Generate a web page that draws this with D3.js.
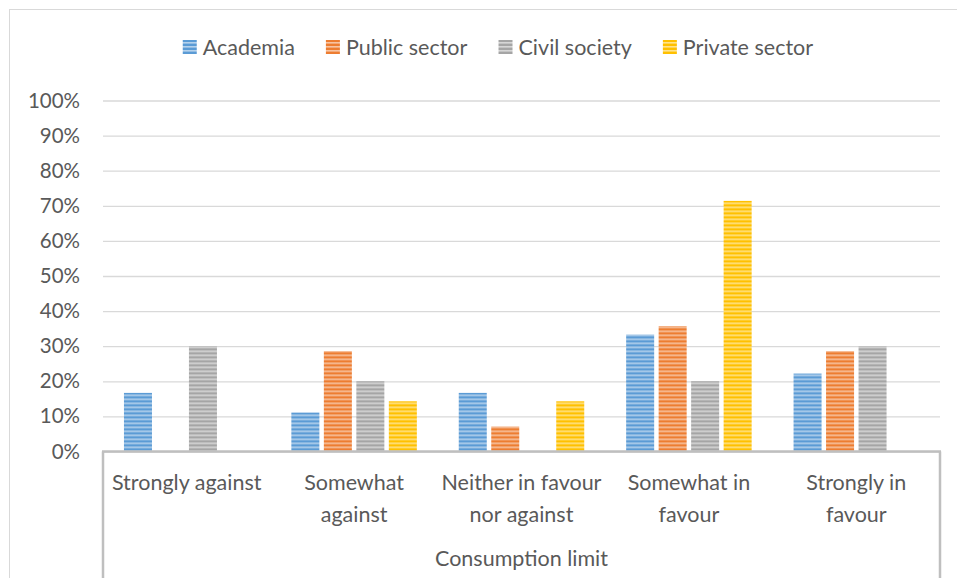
<!DOCTYPE html>
<html>
<head>
<meta charset="utf-8">
<script src="https://cdn.jsdelivr.net/npm/d3@7"></script>
<style>
  body { margin: 0; background: #fff; }
  text { font-family: Lato, "Open Sans", sans-serif; fill: #595959; }
</style>
</head>
<body>
<svg id="chart" width="957" height="578"></svg>
<script>
// data
let categories = ['Strongly against', 'Somewhat against', 'Neither in favour nor against', 'Somewhat in favour', 'Strongly in favour'];
let categoryLines = [['Strongly against'], ['Somewhat', 'against'], ['Neither in favour', 'nor against'], ['Somewhat in', 'favour'], ['Strongly in', 'favour']];
let seriesNames = ['Academia', 'Public sector', 'Civil society', 'Private sector'];
let seriesColors = ['#5B9BD5', '#ED7D31', '#A5A5A5', '#FFC000'];
let academia = [16.7, 11.1, 16.7, 33.3, 22.2];
let publicSector = [0, 28.6, 7.1, 35.7, 28.6];
let civilSociety = [30, 20, 0, 20, 30];
let privateSector = [0, 14.3, 14.3, 71.4, 0];
let yTicks = [0, 10, 20, 30, 40, 50, 60, 70, 80, 90, 100];
let groupLabel = 'Consumption limit';

let seriesValues = [academia, publicSector, civilSociety, privateSector];

let svg = d3.select('#chart');
let W = 957, H = 578;
let margin = {top: 100.5, right: 17, bottom: 126.5, left: 103};
let plotW = W - margin.left - margin.right,
    plotH = H - margin.top - margin.bottom;

// outer chart border (runs off the right and bottom edge)
svg.append('rect')
    .attr('x', 9.5).attr('y', 9.5)
    .attr('width', 1000).attr('height', 1000)
    .attr('fill', '#fff')
    .attr('stroke', '#d9d9d9');

// striped fill patterns
let defs = svg.append('defs');
seriesColors.forEach(function(c, i) {
    let p = defs.append('pattern')
        .attr('id', 'stripe' + i)
        .attr('patternUnits', 'userSpaceOnUse')
        .attr('width', 8).attr('height', 4);
    p.append('rect').attr('width', 8).attr('height', 4).attr('fill', c);
    p.append('rect').attr('y', 2).attr('width', 8).attr('height', 1.6)
        .attr('fill', '#fff').attr('opacity', 0.55);
});

let g = svg.append('g')
    .attr('transform', 'translate(' + margin.left + ',' + margin.top + ')');

let x0 = d3.scaleBand().domain(categories).range([0, plotW]).paddingInner(0).paddingOuter(0);
let x1 = d3.scaleBand().domain(seriesNames).range([0, x0.bandwidth()])
    .paddingInner(0.138).paddingOuter(0.645);
let y = d3.scaleLinear().domain([0, 100]).range([plotH, 0]);

// gridlines + y labels
let yAxis = d3.axisLeft(y)
    .tickValues(yTicks)
    .tickSize(-plotW)
    .tickFormat(function(d) { return d + '%'; });

g.append('g')
    .call(yAxis)
    .call(function(a) {
        a.select('.domain').remove();
        a.selectAll('.tick line').attr('stroke', '#d9d9d9').attr('stroke-width', 1.3);
        a.selectAll('.tick text')
            .attr('x', -23)
            .style('font-size', '20.5px')
            .style('fill', '#595959');
    });

// bars
let rows = categories.map(function(c, ci) {
    return seriesNames.map(function(s, si) {
        return {cat: c, series: s, si: si, value: seriesValues[si][ci]};
    });
});

g.selectAll('.group')
    .data(rows)
    .enter().append('g')
    .attr('class', 'group')
    .attr('transform', function(d, i) { return 'translate(' + x0(categories[i]) + ',0)'; })
    .selectAll('rect')
    .data(function(d) { return d.filter(function(e) { return e.value > 0; }); })
    .enter().append('rect')
    .attr('x', function(d) { return x1(d.series); })
    .attr('y', function(d) { return y(d.value); })
    .attr('width', x1.bandwidth())
    .attr('height', function(d) { return plotH - y(d.value); })
    .attr('fill', function(d) { return 'url(#stripe' + d.si + ')'; });

// category axis box
let axisColor = '#bfbfbf';
g.append('line')
    .attr('x1', -1).attr('x2', plotW + 1)
    .attr('y1', plotH).attr('y2', plotH)
    .attr('stroke', axisColor).attr('stroke-width', 2.5);
[0, plotW].forEach(function(xx) {
    g.append('line')
        .attr('x1', xx).attr('x2', xx)
        .attr('y1', plotH).attr('y2', H)
        .attr('stroke', axisColor).attr('stroke-width', 2.5);
});

// category labels
categoryLines.forEach(function(lines, i) {
    let t = g.append('text')
        .attr('text-anchor', 'middle')
        .style('font-size', '21.5px')
        .attr('x', x0(categories[i]) + x0.bandwidth() / 2)
        .attr('y', plotH + 38);
    lines.forEach(function(l, li) {
        t.append('tspan')
            .attr('x', x0(categories[i]) + x0.bandwidth() / 2)
            .attr('dy', li === 0 ? 0 : 32)
            .text(l);
    });
});

g.append('text')
    .attr('text-anchor', 'middle')
    .style('font-size', '21.5px')
    .attr('x', plotW / 2)
    .attr('y', plotH + 114)
    .text(groupLabel);

// legend
let legend = svg.append('g').attr('class', 'legend');
let items = legend.selectAll('g')
    .data(seriesNames)
    .enter().append('g');
items.append('rect')
    .attr('width', 14).attr('height', 14)
    .attr('y', 40)
    .attr('fill', function(d, i) { return 'url(#stripe' + i + ')'; });
items.append('text')
    .attr('x', 20).attr('y', 47).attr('dy', '0.35em')
    .style('font-size', '21.5px')
    .text(function(d) { return d; });

let widths = [];
items.each(function() { widths.push(this.getBBox().width); });
let gap = 31;
let total = d3.sum(widths) + gap * (widths.length - 1);
let lx = 175 + (646 - total) / 2;
items.attr('transform', function(d, i) {
    let pos = lx;
    lx += widths[i] + gap;
    return 'translate(' + pos + ',0)';
});
</script>
</body>
</html>
